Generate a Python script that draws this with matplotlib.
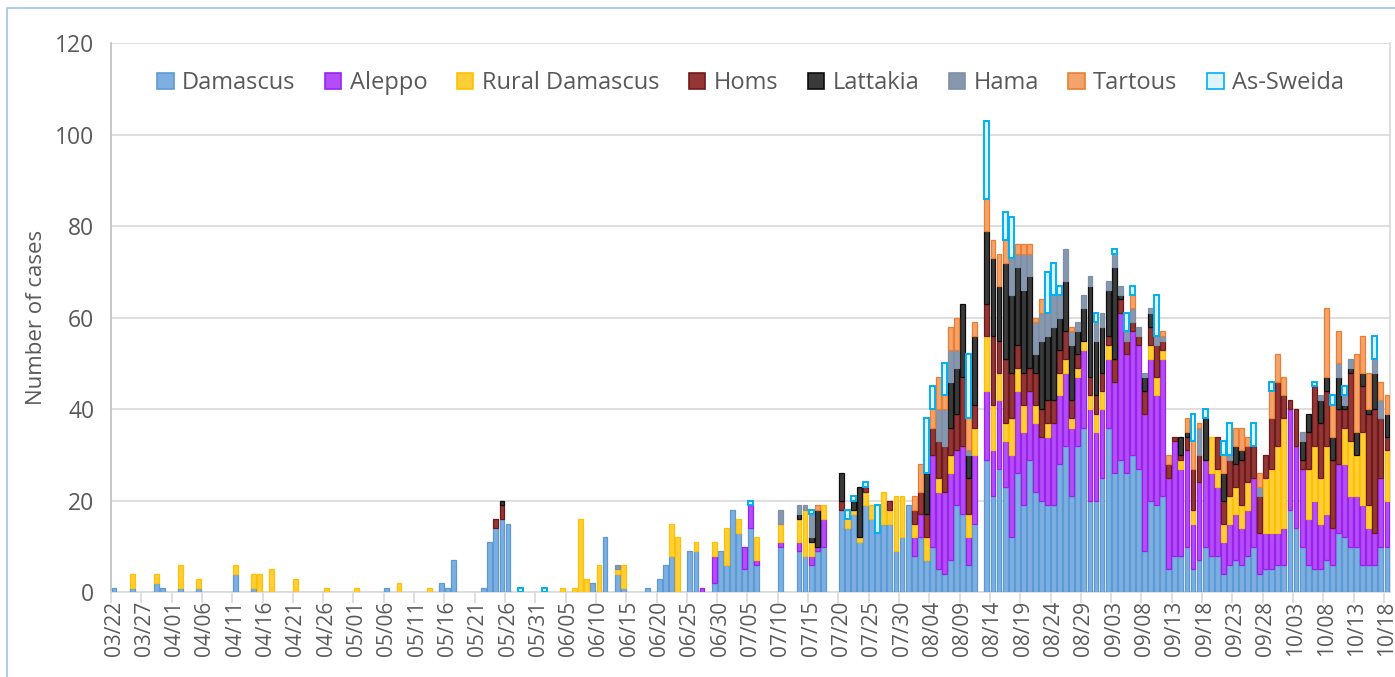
import numpy as np
import pandas as pd
import matplotlib
matplotlib.use("Agg")
import matplotlib.pyplot as plt
from matplotlib.patches import Patch, Rectangle

# -------------------------------------------
# Data: daily new cases by governorate, 03/22 - 10/18
# (monthly chunks: Mar 22-31, Apr, May, Jun, Jul, Aug, Sep, Oct 1-18)
# -------------------------------------------
dates = pd.date_range("2020-03-22", "2020-10-18").strftime("%m/%d").tolist()

damascus = ([1,0,0,1,0,0,0,2,1,0]
            + [0,1,0,0,1,0,0,0,0,0, 4,0,0,1,0,0,0,0,0,0, 0,0,0,0,0,0,0,0,0,0]
            + [0,0,0,0,0,1,0,0,0,0, 0,0,0,0,2,1,7,0,0,0, 0,1,11,14,16,15,0,0,0,0, 0]
            + [0,0,0,0,0,0,0,0,2,0, 12,0,4,1,0,0,0,1,0,3, 6,8,0,0,9,9,0,0,2,9]
            + [6,18,13,5,14,6,0,0,0,10, 0,0,9,8,6,9,10,0,0,18, 14,17,11,19,16,13,15,15,9,12, 19]
            + [8,12,7,10,5,4,7,19,17,6, 15,0,29,21,27,23,12,26,19,29, 22,20,19,19,28,32,21,32,36,20, 20]
            + [25,36,26,29,26,30,27,9,20,19, 21,5,8,8,10,5,7,10,8,8, 4,6,7,6,8,10,4,5,5,6]
            + [6,18,14,10,6,5,5,7,6,13,12,10,10,6,6,6,10,10])

aleppo = ([0]*10 + [0]*30 + [0]*31
          + [0,0,0,0,0,0,0,0,0,0, 0,0,0,0,0,0,0,0,0,0, 0,0,0,0,0,0,1,0,6,0]
          + [0,0,0,5,5,1,0,0,0,1, 0,0,2,0,2,1,6,0,0,0, 0,0,0,0,0,0,0,0,0,0, 0]
          + [4,5,0,20,17,18,19,12,15,6, 15,0,15,10,15,10,18,18,16,15, 15,14,15,18,15,16,15,15,17,20, 15]
          + [15,15,20,32,26,27,27,30,31,24, 30,20,25,19,21,10,17,19,18,15, 7,9,10,8,10,15,9,8,8,7]
          + [8,22,18,17,10,15,10,10,8,15,16,11,11,13,8,7,15,10])

rural_damascus = ([0,0,0,3,0,0,0,2,0,0]
                  + [0,5,0,0,2,0,0,0,0,0, 2,0,0,3,4,0,5,0,0,0, 3,0,0,0,0,1,0,0,0,0]
                  + [1,0,0,0,0,0,0,2,0,0, 0,0,1,0,0,0,0,0,0,0, 0,0,0,0,0,0,0,0,0,0, 0]
                  + [0,0,0,1,0,1,16,3,0,6, 0,0,1,5,0,0,0,0,0,0, 0,7,12,0,0,2,0,0,3,0]
                  + [8,0,3,0,0,5,0,0,0,4, 0,0,5,10,3,0,3,0,0,0, 2,1,1,3,3,0,7,3,12,9, 0]
                  + [3,0,5,0,3,0,4,0,0,5, 6,0,12,10,6,4,8,5,6,0, 4,0,3,0,5,3,2,2,2,3, 4]
                  + [4,3,0,0,0,0,0,0,3,4, 2,0,0,2,0,3,0,0,8,4, 4,6,6,5,6,0,0,12,14,19]
                  + [24,0,0,0,11,12,10,15,0,0,8,12,9,16,5,0,0,11])

homs = ([0]*10 + [0]*30
        + [0]*23 + [2,3] + [0]*6
        + [0]*30
        + [0,0,0,0,0,0,0,0,0,0, 0,0,0,0,0,0,0,0,0,2, 0,0,0,1,0,0,0,2,0,0, 0]
        + [3,5,5,6,8,10,6,8,15,8, 5,0,7,15,7,14,10,5,7,5, 7,6,5,5,5,6,4,3,0,4, 4]
        + [4,2,5,3,3,2,2,5,4,7, 2,3,1,1,3,9,6,0,0,7, 5,8,5,10,8,7,8,5,11,14]
        + [5,2,8,2,8,13,12,12,15,12,4,15,0,10,20,27,13,3])

lattakia = ([0]*10 + [0]*30
            + [0]*24 + [1] + [0]*6
            + [0]*30
            + [0,0,0,0,0,0,0,0,0,0, 0,0,1,0,1,8,0,0,0,6, 0,2,11,0,0,0,0,0,0,0, 0]
            + [0,0,9,0,0,0,10,10,16,5, 15,0,16,17,12,21,17,17,18,20, 4,15,14,16,7,11,12,5,7,20, 12]
            + [10,10,20,1,0,0,0,3,3,0, 0,0,0,4,1,0,0,9,0,0, 6,0,4,2,0,0,0,0,0,0]
            + [0,0,0,4,4,0,5,3,5,7,1,1,5,3,1,8,0,5])

hama = ([0]*10 + [0]*30 + [0]*31
        + [0]*12 + [1] + [0]*17
        + [0,0,0,0,0,0,0,0,0,3, 0,0,2,1,5,0,0,0,0,0, 0,0,0,0,0,0,0,0,0,0, 0]
        + [0,0,0,0,7,8,7,4,0,1, 0,0,0,0,0,0,8,3,8,5, 7,6,5,7,5,7,3,2,3,2, 4]
        + [3,2,3,2,2,3,2,1,1,2, 1,0,0,0,0,0,6,0,0,0, 0,1,0,0,0,0,2,0,0,0]
        + [0,0,0,2,0,0,1,0,0,3,2,2,0,0,0,3,4,0])

tartous = ([0]*10 + [0]*30 + [0]*31 + [0]*30
           + [0]*15 + [1] + [0]*15
           + [3,6,0,4,7,3,5,7,0,7, 3,0,7,4,7,5,0,2,2,2, 1,3,0,0,0,0,1,0,0,0, 0]
           + [0,0,0,0,0,3,0,0,0,0, 1,2,0,0,3,6,1,0,0,0, 4,0,4,5,2,0,3,0,6,6]
           + [4,0,0,0,0,0,0,15,7,7,0,0,17,8,8,0,4,4])

as_sweida = ([0]*10 + [0]*30
             + [0]*27 + [1] + [0]*3
             + [1] + [0]*29
             + [0,0,0,0,1,0,0,0,0,0, 0,0,0,0,1,0,0,0,0,0, 2,1,0,1,0,6,0,0,0,0, 0]
             + [0,0,12,5,0,7,0,0,0,14, 0,0,17,0,0,6,9,0,0,0, 0,0,9,7,2,0,0,0,0,0, 2]
             + [0,0,1,0,4,2,0,0,0,9, 0,0,0,0,0,6,0,2,0,0, 3,7,0,0,0,5,0,0,2,0]
             + [0,0,0,0,0,1,0,0,2,0,2,0,0,0,0,5,0,0])

series_names = ["Damascus", "Aleppo", "Rural Damascus", "Homs",
                "Lattakia", "Hama", "Tartous", "As-Sweida"]
series_values = [damascus, aleppo, rural_damascus, homs,
                 lattakia, hama, tartous, as_sweida]

# fill / edge colours (Excel style: lighter fill, darker outline)
face_colors = ["#7FAEE0", "#B24DF7", "#FFCF3A", "#923636",
               "#3A3A3A", "#8797AE", "#F3A46C", "#DDF4FC"]
edge_colors = ["#5B9BD5", "#9B22EE", "#FFC000", "#6E1A1A",
               "#0D0D0D", "#7E90A8", "#ED7D31", "#00B0F0"]

plt.rcParams["font.family"] = ["Open Sans", "DejaVu Sans"]
text_color = "#595959"

fig = plt.figure(figsize=(13.95, 6.77), dpi=100)
ax = fig.add_axes([111 / 1395, 1 - 592.3 / 677, (1390 - 111) / 1395, (592.3 - 43) / 677])

x = np.arange(len(dates))
bottom = np.zeros(len(dates))
for name, vals, fc, ec in zip(series_names, series_values, face_colors, edge_colors):
    vals = np.array(vals, dtype=float)
    nz = vals > 0
    lw = 1.4 if name == "As-Sweida" else 0.9
    ax.bar(x[nz], vals[nz], bottom=bottom[nz], width=0.8,
           facecolor=fc, edgecolor=ec, linewidth=lw, zorder=3)
    bottom += vals

ax.set_xlim(-0.5, len(dates) - 0.5)
ax.set_ylim(0, 120)
ax.set_yticks(range(0, 121, 20))
ax.yaxis.grid(True, color="#D9D9D9", linewidth=1.2, zorder=0)
ax.set_axisbelow(True)

# category labels every 5 days, tick marks between categories
ax.set_xticks(x[::5])
ax.set_xticklabels(dates[::5], rotation=90)
ax.set_xticks(np.arange(-0.5, len(dates), 5), minor=True)
ax.tick_params(axis="x", which="major", length=0, pad=6, labelsize=15, labelcolor=text_color)
ax.tick_params(axis="x", which="minor", length=8, color="#D9D9D9", width=1.2)
ax.tick_params(axis="y", length=0, pad=12, labelsize=16.5, labelcolor=text_color)

ax.spines["top"].set_visible(False)
ax.spines["left"].set_color("#BFBFBF")
ax.spines["right"].set_color("#D9D9D9")
ax.spines["bottom"].set_color("#D9D9D9")
for side in ["left", "right", "bottom"]:
    ax.spines[side].set_linewidth(1.2)

ax.set_ylabel("Number of cases", fontsize=16, color=text_color)
ax.yaxis.set_label_coords((47 - 111) / 1279, 0.5)

handles = [Patch(facecolor=fc, edgecolor=ec, linewidth=1.2)
           for fc, ec in zip(face_colors, edge_colors)]
ax.legend(handles, series_names, loc="center", bbox_to_anchor=(0.5, 0.927),
          ncol=8, frameon=False, fontsize=17, labelcolor=text_color,
          handlelength=0.7, handleheight=0.7, handletextpad=0.35,
          columnspacing=1.25)

# light chart border (only left/top edges fall inside the picture)
fig.patches.append(Rectangle((7 / 1395, -0.1), 1.2, 1.1 - 8 / 677,
                             transform=fig.transFigure, fill=False,
                             edgecolor="#9DC3E6", linewidth=1.2))

fig.savefig("out.png", dpi=100)
